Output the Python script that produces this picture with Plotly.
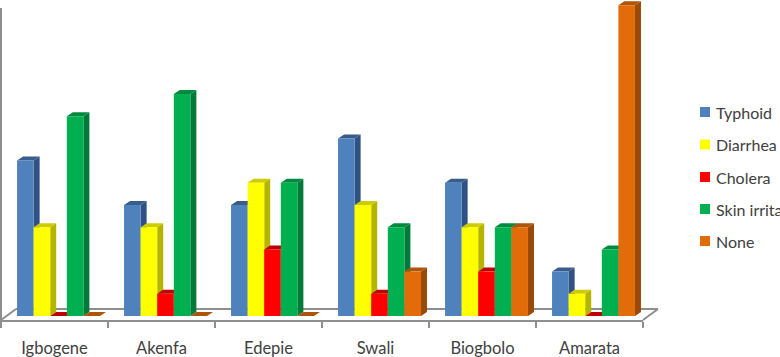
import plotly.graph_objects as go

W, H = 780, 357
categories = ["Igbogene", "Akenfa", "Edepie", "Swali", "Biogbolo", "Amarata"]
series_names = ["Typhoid", "Diarrhea", "Cholera", "Skin irritation", "None"]
typhoid = [7, 5, 5, 8, 6, 2]
diarrhea = [4, 4, 6, 5, 4, 1]
cholera = [0, 1, 3, 1, 2, 0]
skin = [9, 10, 6, 4, 4, 3]
none = [0, 0, 0, 2, 4, 14]
series_values = [typhoid, diarrhea, cholera, skin, none]
front_colors = ["#4F81BD", "#FFFF00", "#FF0000", "#00B050", "#E36C0A"]
side_colors = ["#2F5184", "#B5B500", "#B00000", "#007A38", "#9A4A07"]
top_colors = ["#385D8A", "#CCCC00", "#C00000", "#008A3E", "#AD5508"]

AXIS = "#8E8E8E"
FONT = "Lato, 'Open Sans', sans-serif"
TEXT = "#404040"
ML, MR, MT, MB = 1, 137, 0, 37
BAR_W, FIRST = 0.155, -0.35
DX, DY = 0.056, 0.18
Y_RANGE = [-0.18, 14.234]


def px(x):
    return (x - ML) / (W - ML - MR)


def py(y):
    return 1 - (y - MT) / (H - MT - MB)


fig = go.Figure()
shapes = []


def line(x0, y0, x1, y1, width=2):
    shapes.append(dict(type="line", xref="paper", yref="paper", layer="below",
                       x0=px(x0), y0=py(y0), x1=px(x1), y1=py(y1),
                       line=dict(color=AXIS, width=width)))


# walls and floor
line(1, 8, 1, 326)
line(1, 320, 16, 309)
line(16, 309, 658, 309)
line(643, 320, 658, 309)

for s, (name, vals) in enumerate(zip(series_names, series_values)):
    off = FIRST + s * BAR_W
    for i, v in enumerate(vals):
        x0 = i + off
        x1 = x0 + BAR_W
        side = (f"M{x1},0 L{x1 + DX},{DY} L{x1 + DX},{v + DY} L{x1},{v} Z")
        top = (f"M{x0},{v} L{x1},{v} L{x1 + DX},{v + DY} L{x0 + DX},{v + DY} Z")
        shapes.append(dict(type="path", xref="x", yref="y", layer="below", path=side,
                           fillcolor=side_colors[s], line=dict(width=0)))
        shapes.append(dict(type="path", xref="x", yref="y", layer="below", path=top,
                           fillcolor=top_colors[s], line=dict(width=0)))
    fig.add_trace(go.Bar(x=categories, y=vals, name=name, width=BAR_W, offset=off,
                         marker=dict(color=front_colors[s], line=dict(width=0)),
                         showlegend=False))

# legend
legend_y = [112, 144.5, 177, 209, 241]
annotations = []
for name, color, y in zip(series_names, front_colors, legend_y):
    shapes.append(dict(type="rect", xref="paper", yref="paper",
                       x0=px(700), x1=px(710), y0=py(y - 5), y1=py(y + 5),
                       fillcolor=color, line=dict(width=0)))
    annotations.append(dict(xref="paper", yref="paper", x=px(714), y=py(y), text=name,
                            showarrow=False, xanchor="left", yanchor="middle",
                            font=dict(family=FONT, size=16, color=TEXT)))

fig.update_layout(
    width=W, height=H, margin=dict(l=ML, r=MR, t=MT, b=MB),
    paper_bgcolor="white", plot_bgcolor="rgba(0,0,0,0)",
    barmode="overlay", showlegend=False,
    shapes=shapes, annotations=annotations,
    xaxis=dict(type="category", categoryorder="array", categoryarray=categories,
               range=[-0.5, 5.5], showline=True, linecolor=AXIS, linewidth=2,
               ticks="outside", ticklen=6, tickcolor=AXIS, tickwidth=2,
               tickson="boundaries", showgrid=False, zeroline=False,
               ticklabelstandoff=12,
               tickfont=dict(family=FONT, size=16.5, color=TEXT), fixedrange=True),
    yaxis=dict(range=Y_RANGE, showgrid=False, zeroline=False, showline=False,
               showticklabels=False, ticks="", fixedrange=True),
)
fig.write_html("out.html", config=dict(displayModeBar=False),
               post_script="document.body.style.margin='0';")
